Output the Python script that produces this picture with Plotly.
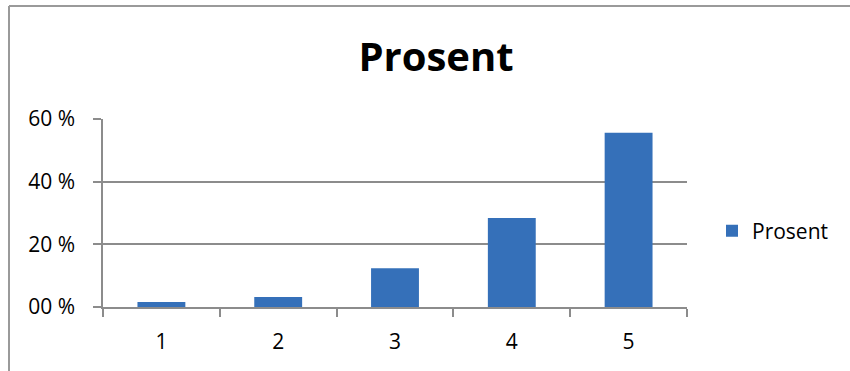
import plotly.graph_objects as go

# Share of answers per score (percent)
categories = ["1", "2", "3", "4", "5"]
prosent = [1.6, 3.2, 12.4, 28.4, 55.6]
y_ticks = [0, 20, 40, 60]
y_tick_labels = ["00 %", "20 %", "40 %", "60 %"]

W, H = 850, 371
L, R, T, B = 103, 163, 119, 64
pw, ph = W - L - R, H - T - B

FONT = "Open Sans"
GRID = "#8c8c8c"

fig = go.Figure(
    go.Bar(
        x=categories,
        y=prosent,
        name="Prosent",
        marker=dict(color="#3570b9", line=dict(width=0)),
        width=0.41,
        hoverinfo="x+y",
    )
)

# pixel -> paper conversions relative to the plot area
def px_x(p):
    return (p - L) / pw

def px_y(p):
    return (H - B - p) / ph

# outer chart frame: left and top edges, running off the canvas
fig.add_shape(
    type="line", xref="paper", yref="paper",
    x0=px_x(9), x1=px_x(9), y0=px_y(6), y1=px_y(420),
    line=dict(color="#9a9a9a", width=2), layer="below",
)
fig.add_shape(
    type="line", xref="paper", yref="paper",
    x0=px_x(9), x1=px_x(950), y0=px_y(6), y1=px_y(6),
    line=dict(color="#9a9a9a", width=2), layer="below",
)

fig.update_layout(
    width=W, height=H,
    margin=dict(l=L, r=R, t=T, b=B),
    paper_bgcolor="white",
    plot_bgcolor="white",
    title=dict(
        text="<b>Prosent</b>",
        font=dict(family=FONT, size=40, color="black"),
        x=436 / W, xanchor="center",
        y=1 - 57 / H, yanchor="middle",
        xref="container", yref="container",
    ),
    showlegend=True,
    legend=dict(
        x=px_x(712), xanchor="left",
        y=px_y(231), yanchor="middle",
        font=dict(family=FONT, size=21, color="black"),
        bgcolor="rgba(0,0,0,0)",
        itemwidth=30,
    ),
    font=dict(family=FONT, size=21, color="black"),
)

fig.update_xaxes(
    type="category",
    showgrid=False,
    showline=True, linecolor=GRID, linewidth=1.5,
    ticks="outside", ticklen=8, tickcolor=GRID, tickwidth=1.5,
    tickson="boundaries",
    tickfont=dict(family=FONT, size=21, color="black"),
    ticklabelstandoff=15,
    fixedrange=True,
)

fig.update_yaxes(
    range=[0, 60],
    tickvals=y_ticks, ticktext=y_tick_labels,
    showgrid=True, gridcolor=GRID, gridwidth=1.5,
    showline=True, linecolor=GRID, linewidth=1.5,
    ticks="outside", ticklen=8, tickcolor=GRID, tickwidth=1.5,
    tickfont=dict(family=FONT, size=21, color="black"),
    ticklabelstandoff=14,
    zeroline=False,
    fixedrange=True,
)

fig.write_html("out.html", config={"displayModeBar": False})
